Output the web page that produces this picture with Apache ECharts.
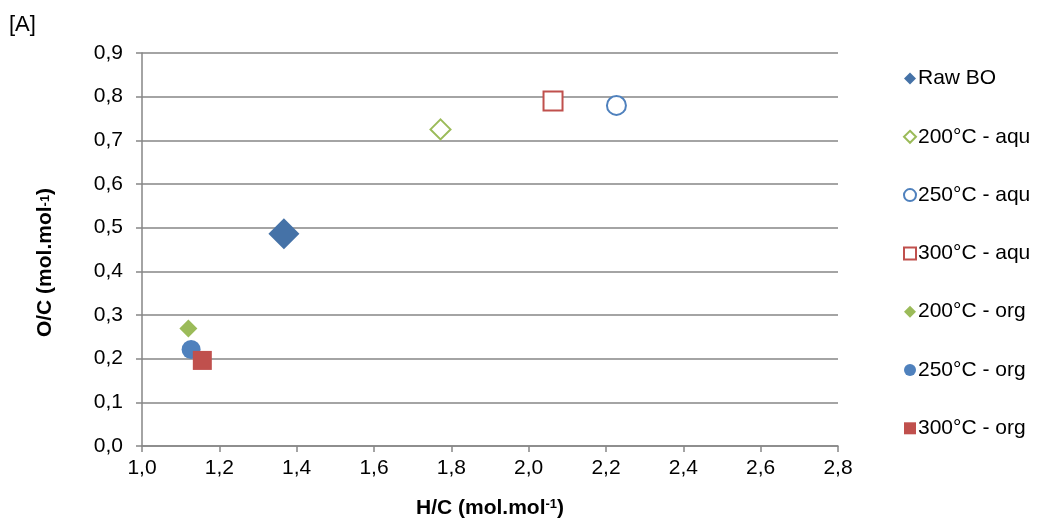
<!DOCTYPE html>
<html><head><meta charset="utf-8">
<script src="https://cdn.jsdelivr.net/npm/echarts@6/dist/echarts.min.js"></script>
<style>html,body{margin:0;padding:0;background:#fff}#c{width:1042px;height:522px}</style>
</head><body><div id="c"></div>
<script>
const seriesNames = ['Raw BO','200°C - aqu','250°C - aqu','300°C - aqu','200°C - org','250°C - org','300°C - org'];
const rawBO = [[1.367, 0.486]];
const aqu200 = [[1.772, 0.725]];
const aqu250 = [[2.227, 0.780]];
const aqu300 = [[2.063, 0.790]];
const org200 = [[1.120, 0.269]];
const org250 = [[1.127, 0.221]];
const org300 = [[1.156, 0.196]];
const xTicks = [1.0,1.2,1.4,1.6,1.8,2.0,2.2,2.4,2.6,2.8];
const yTicks = [0.0,0.1,0.2,0.3,0.4,0.5,0.6,0.7,0.8,0.9];

const GREEN='#9BBB59', BLUE='#4F81BD', RED='#C0504D', DBLUE='#4572A7';
const fmt = v => v.toFixed(1).replace('.', ',');
const font = "'Liberation Sans', Arial, sans-serif";
const FS = 21;

function mk(name, data, symbol, size, color, hollow){
  return {
    name, type:'scatter', data, symbol, symbolSize:size,
    itemStyle: hollow ? {color:'#fff', borderColor:color, borderWidth:2, opacity:1} : {color:color, opacity:1},
    emphasis:{disabled:true}
  };
}
const chart = echarts.init(document.getElementById('c'), null, {renderer:'canvas'});
chart.setOption({
  animation:false,
  backgroundColor:'#fff',
  textStyle:{fontFamily:font},
  graphic:[{type:'text', left:9, top:14, style:{text:'[A]', font:"22px 'Liberation Sans', Arial", fill:'#000'}}],
  grid:{left:142, right:204, top:53, bottom:76, containLabel:false, outerBoundsMode:'none'},
  legend:{
    orient:'vertical', left:898, top:63, itemGap:37.3, itemWidth:12, itemHeight:12,
    textStyle:{fontSize:FS, color:'#000', fontFamily:font, padding:[0,0,0,-3]},
    data: seriesNames.map(n=>({name:n}))
  },
  xAxis:{
    type:'value', min:xTicks[0], max:xTicks[xTicks.length-1], interval:0.2,
    axisLine:{onZero:false, lineStyle:{color:'#868686', width:1.5}},
    axisTick:{show:true, length:6, lineStyle:{color:'#868686', width:1.5}},
    axisLabel:{formatter:fmt, fontSize:FS, color:'#000', margin:12},
    splitLine:{show:false},
    name:'{a|H/C (mol.mol}{s|-1}{a|)}', nameLocation:'middle', nameGap:52,
    nameTextStyle:{rich:{a:{fontSize:FS, fontWeight:'bold', color:'#000', fontFamily:font}, s:{fontSize:13, fontWeight:'bold', color:'#000', verticalAlign:'top', padding:[0,0,8,0], fontFamily:font}}}
  },
  yAxis:{
    type:'value', min:yTicks[0], max:yTicks[yTicks.length-1], interval:0.1,
    axisLine:{show:true, onZero:false, lineStyle:{color:'#868686', width:1.5}},
    axisTick:{show:true, length:6, lineStyle:{color:'#868686', width:1.5}},
    axisLabel:{formatter:fmt, fontSize:FS, color:'#000', margin:19},
    splitLine:{show:true, lineStyle:{color:'#868686', width:1.5}},
    name:'{a|O/C (mol.mol}{s|-1}{a|)}', nameLocation:'middle', nameGap:86, nameRotate:90,
    nameTextStyle:{padding:[0,0,0,-26], rich:{a:{fontSize:FS, fontWeight:'bold', color:'#000', fontFamily:font}, s:{fontSize:13, fontWeight:'bold', color:'#000', fontFamily:font}}}
  },
  series:[
    mk(seriesNames[0], rawBO, 'diamond', 31, DBLUE, false),
    mk(seriesNames[1], aqu200, 'diamond', 20, GREEN, true),
    mk(seriesNames[2], aqu250, 'circle', 19, BLUE, true),
    mk(seriesNames[3], aqu300, 'rect', 19, RED, true),
    mk(seriesNames[4], org200, 'diamond', 18, GREEN, false),
    mk(seriesNames[5], org250, 'circle', 19, BLUE, false),
    mk(seriesNames[6], org300, 'rect', 19, RED, false)
  ]
});
</script></body></html>
